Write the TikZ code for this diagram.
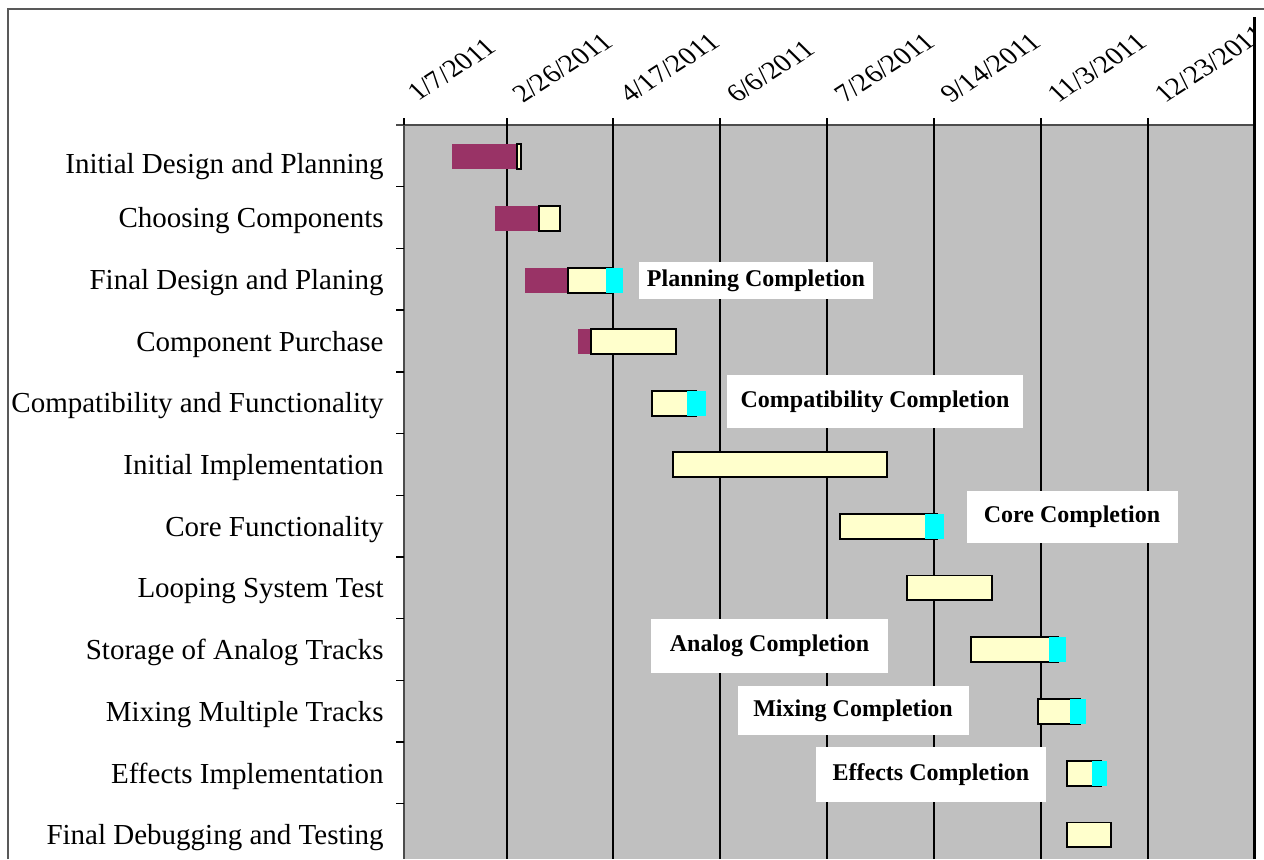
\documentclass[tikz,border=0pt]{standalone}
\usepackage{fontspec}
\setmainfont{Liberation Serif}
\definecolor{chartgray}{RGB}{192,192,192}
\definecolor{plum}{RGB}{153,51,102}
\definecolor{cream}{RGB}{255,255,204}
\definecolor{aqua}{RGB}{0,255,255}
\begin{document}
\begin{tikzpicture}[x=0.5pt, y=-0.5pt,
  tasklabel/.style={anchor=base east, inner sep=0pt, font=\fontsize{14.5}{17}\selectfont},
  datelabel/.style={anchor=base west, inner sep=0pt, rotate=33, xslant=-0.22, font=\fontsize{13.5}{16}\selectfont},
  milestone/.style={fill=white, inner sep=0pt, font=\fontsize{12}{14}\selectfont\bfseries},
  elapsed/.style={fill=plum},
  remaining/.style={fill=cream, draw=black, line width=0.75pt},
  finish/.style={fill=aqua}]
\useasboundingbox (0,0) rectangle (1264,859);
\fill[white] (0,0) rectangle (1264,859);

% Frame
\draw[black!65, line width=1pt] (8,859) -- (8,9) -- (1264,9);

% Plot area
\fill[chartgray] (404,125) rectangle (1254,859);
\draw[black!70, line width=0.8pt] (396,125) -- (1254,125);
\draw[black!70, line width=0.6pt] (404,125) -- (404,859);

% Grid
\draw[black, line width=0.7pt] (404,118) -- (404,125);
\draw[black, line width=0.7pt] (507,118) -- (507,859);
\draw[black, line width=1.1pt] (613,118) -- (613,859);
\draw[black, line width=0.7pt] (720,118) -- (720,859);
\draw[black, line width=1.1pt] (827,118) -- (827,859);
\draw[black, line width=0.7pt] (934,118) -- (934,859);
\draw[black, line width=0.7pt] (1041,118) -- (1041,859);
\draw[black, line width=0.7pt] (1148,118) -- (1148,859);
\draw[black, line width=1.5pt] (1254,17) -- (1254,859);

% Row ticks
\draw[black, line width=0.7pt] (396,186.7) -- (404,186.7);
\draw[black, line width=0.7pt] (396,248.4) -- (404,248.4);
\draw[black, line width=0.7pt] (396,310.1) -- (404,310.1);
\draw[black, line width=0.7pt] (396,371.8) -- (404,371.8);
\draw[black, line width=0.7pt] (396,433.5) -- (404,433.5);
\draw[black, line width=0.7pt] (396,495.2) -- (404,495.2);
\draw[black, line width=0.7pt] (396,556.9) -- (404,556.9);
\draw[black, line width=0.7pt] (396,618.6) -- (404,618.6);
\draw[black, line width=0.7pt] (396,680.3) -- (404,680.3);
\draw[black, line width=0.7pt] (396,742) -- (404,742);
\draw[black, line width=0.7pt] (396,803.7) -- (404,803.7);

% Dates
\begin{scope}
\clip (0,0) rectangle (1252,125);
\node[datelabel] (date1) at (418,102) {1/7/2011};
\node[datelabel] (date2) at (523,104) {2/26/2011};
\node[datelabel] (date3) at (630,104) {4/17/2011};
\node[datelabel] (date4) at (737,104) {6/6/2011};
\node[datelabel] (date5) at (845,104) {7/26/2011};
\node[datelabel] (date6) at (951,104) {9/14/2011};
\node[datelabel] (date7) at (1058,104) {11/3/2011};
\node[datelabel] (date8) at (1165,104) {12/23/2011};
\end{scope}

% Tasks
\node[tasklabel] (design) at (384,173) {Initial Design and Planning};
\node[tasklabel] (choosing) at (384,227.5) {Choosing Components};
\node[tasklabel] (final) at (384,289) {Final Design and Planing};
\node[tasklabel] (purchase) at (384,351) {Component Purchase};
\node[tasklabel] (compat) at (384,412.5) {Compatibility and Functionality};
\node[tasklabel] (implement) at (384,474.5) {Initial Implementation};
\node[tasklabel] (core) at (384,536) {Core Functionality};
\node[tasklabel] (looping) at (384,597.5) {Looping System Test};
\node[tasklabel] (storage) at (384,659.5) {Storage of Analog Tracks};
\node[tasklabel] (mixing) at (384,721) {Mixing Multiple Tracks};
\node[tasklabel] (effects) at (384,783) {Effects Implementation};
\node[tasklabel] (debug) at (384,844.5) {Final Debugging and Testing};

% Bars
\fill[elapsed] (452,144) rectangle (517,169);
\draw[remaining] (517,144) rectangle (521,169);

\fill[elapsed] (495,206) rectangle (539,231);
\draw[remaining] (539,206) rectangle (560,231);

\fill[elapsed] (525,268) rectangle (568,293);
\draw[remaining] (568,268) rectangle (613,293);
\fill[finish] (606,268) rectangle (623,293);

\fill[elapsed] (578,329) rectangle (591,354);
\draw[remaining] (591,329) rectangle (676,354);

\draw[remaining] (652,391) rectangle (696,416);
\fill[finish] (687,391) rectangle (706,416);

\draw[remaining] (673,452) rectangle (887,477);

\draw[remaining] (840,514) rectangle (937,539);
\fill[finish] (925,514) rectangle (944,539);

\draw[remaining] (907,575.5) rectangle (992,600);

\draw[remaining] (971,637) rectangle (1058,662);
\fill[finish] (1049,637) rectangle (1066,662);

\draw[remaining] (1038,699) rectangle (1080,724);
\fill[finish] (1070,699) rectangle (1086,724);

\draw[remaining] (1067,761) rectangle (1101,786);
\fill[finish] (1092,761) rectangle (1107,786);

\draw[remaining] (1067,822.5) rectangle (1111,847);

% Milestones
\node[milestone, minimum width=117pt, minimum height=18.5pt] (planning) at (756,280.5) {Planning Completion};
\node[milestone, minimum width=148pt, minimum height=26.5pt] (compatibility) at (875,401.5) {Compatibility Completion};
\node[milestone, minimum width=105.5pt, minimum height=26pt] (corecomp) at (1072,517) {Core Completion};
\node[milestone, minimum width=118.5pt, minimum height=27pt] (analog) at (769.5,646.3) {Analog Completion};
\node[milestone, minimum width=115.5pt, minimum height=24.5pt] (mixcomp) at (853,710.5) {Mixing Completion};
\node[milestone, minimum width=115pt, minimum height=27.5pt] (effcomp) at (931,774.5) {Effects Completion};
\end{tikzpicture}
\end{document}
